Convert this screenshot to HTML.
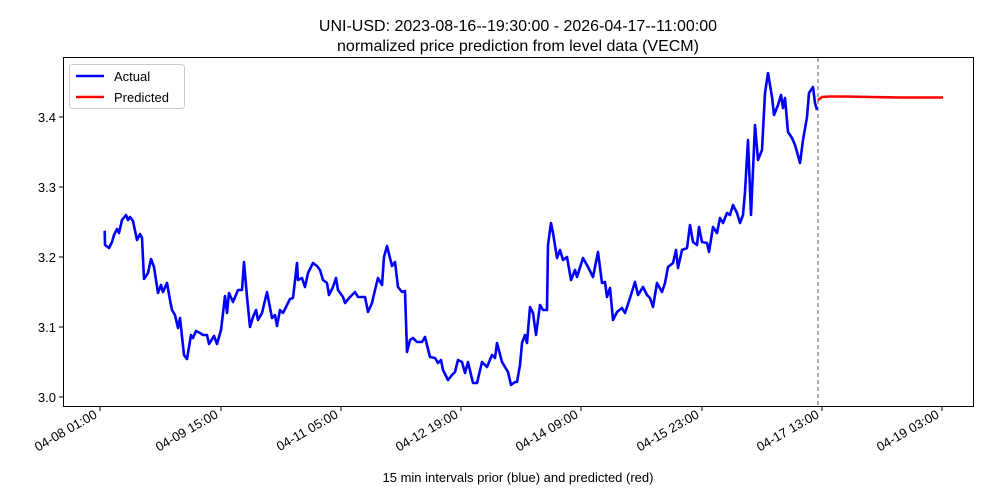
<!DOCTYPE html>
<html><head><meta charset="utf-8"><style>body{margin:0;background:#fff}svg{display:block}</style></head><body>
<svg width="1000" height="500" xmlns="http://www.w3.org/2000/svg" font-family="Liberation Sans, DejaVu Sans, sans-serif">
<rect width="1000" height="500" fill="#fff"/>
<text x="518" y="31" font-size="16" text-anchor="middle">UNI-USD: 2023-08-16--19:30:00 - 2026-04-17--11:00:00</text>
<text x="518" y="51" font-size="16" text-anchor="middle">normalized price prediction from level data (VECM)</text>
<rect x="63.5" y="57.5" width="910" height="349" fill="none" stroke="#000" stroke-width="1"/>
<g font-size="13" text-anchor="end">
<g stroke="#000"><line x1="59" x2="63" y1="397" y2="397"/><line x1="59" x2="63" y1="327" y2="327"/><line x1="59" x2="63" y1="257" y2="257"/><line x1="59" x2="63" y1="187" y2="187"/><line x1="59" x2="63" y1="117" y2="117"/></g>
<text x="56" y="402">3.0</text><text x="56" y="332">3.1</text><text x="56" y="262">3.2</text><text x="56" y="192">3.3</text><text x="56" y="122">3.4</text>
</g>
<g stroke="#000">
<line x1="100" x2="100" y1="407" y2="411"/><line x1="221" x2="221" y1="407" y2="411"/><line x1="341" x2="341" y1="407" y2="411"/><line x1="461" x2="461" y1="407" y2="411"/><line x1="581" x2="581" y1="407" y2="411"/><line x1="702" x2="702" y1="407" y2="411"/><line x1="822" x2="822" y1="407" y2="411"/><line x1="942" x2="942" y1="407" y2="411"/>
</g>
<g font-size="13" text-anchor="end">
<text transform="translate(98,417) rotate(-30)">04-08 01:00</text>
<text transform="translate(219,417) rotate(-30)">04-09 15:00</text>
<text transform="translate(339,417) rotate(-30)">04-11 05:00</text>
<text transform="translate(459,417) rotate(-30)">04-12 19:00</text>
<text transform="translate(579,417) rotate(-30)">04-14 09:00</text>
<text transform="translate(700,417) rotate(-30)">04-15 23:00</text>
<text transform="translate(820,417) rotate(-30)">04-17 13:00</text>
<text transform="translate(940,417) rotate(-30)">04-19 03:00</text>
</g>
<text x="518" y="482" font-size="13" text-anchor="middle">15 min intervals prior (blue) and predicted (red)</text>
<line x1="818" x2="818" y1="58" y2="406" stroke="#555" stroke-dasharray="4,3" stroke-width="1"/>
<polyline fill="none" stroke="#0000ff" stroke-width="2.6" stroke-linejoin="round" points="104.7,230.7 105,245 109,248 112,242 114,235 117,229 119,233 122,220 126,215 128,220 130,217 133,221 137,240 140,234 142,238 144,279 148,273 151,259 154,267 158,293 161,285 163,292 167,283 170,300 172,310 175,315 178,328 180,318 184,355 187,359 191,335 193,338 196,331 200,333 203,335 207,335 209,344 214,336 217,344 221,330 225,296 227,313 229,293 233,302 238,290 242,290 244,262 247,297 250,327 253,317 256,310 258,320 262,313 267,292 272,318 275,315 277,326 280,310 283,313 290,299 293,298 297,263 298,280 302,278 305,287 308,273 313,263 317,266 320,270 323,280 327,283 329,295 333,287 336,278 338,290 343,297 345,303 350,297 355,292 358,297 362,297 365,297 368,312 372,303 375,290 378,278 382,285 384,257 387,246 392,266 395,262 398,287 402,292 405,291 407,352 410,340 413,338 417,342 422,342 425,337 430,357 435,358 438,363 441,360 443,370 448,380 452,375 455,372 458,360 462,362 465,373 468,362 473,383 477,383 482,362 487,367 492,355 495,358 497,343 502,362 505,367 508,372 511,385 515,382 517,382 520,365 522,343 525,335 527,343 530,307 533,313 536,335 540,305 543,310 547,310 548,245 551,223 553,233 557,258 560,250 563,260 567,257 571,280 575,270 577,277 583,258 588,267 593,277 595,267 598,252 602,283 605,282 607,297 610,288 613,320 617,312 622,308 625,313 630,298 635,282 638,295 643,287 647,295 650,298 653,307 657,283 662,292 665,283 668,267 673,263 676,250 678,268 682,250 687,248 690,225 693,242 697,245 699,227 702,242 707,243 709,252 713,227 717,233 720,218 723,223 727,213 730,215 733,205 737,213 740,223 743,215 745,192 748,140 751,215 755,125 758,160 762,150 765,93 768,73 772,97 774,115 778,105 781,95 783,108 785,98 788,132 792,138 795,145 797,152 800,163 803,140 807,117 809,93 813,87 815,103 817,110"/>
<polyline fill="none" stroke="#ff0000" stroke-width="2.6" points="818,100 822,97 830,96.5 845,96.5 870,97 900,97.5 943,97.5"/>
<rect x="69.5" y="64.5" width="115" height="44" fill="#fff" stroke="#ccc" rx="3"/>
<line x1="76" x2="104" y1="76" y2="76" stroke="#0000ff" stroke-width="2.6"/>
<line x1="76" x2="104" y1="97" y2="97" stroke="#ff0000" stroke-width="2.6"/>
<text x="114" y="81" font-size="13">Actual</text>
<text x="114" y="102" font-size="13">Predicted</text>
</svg>
</body></html>
